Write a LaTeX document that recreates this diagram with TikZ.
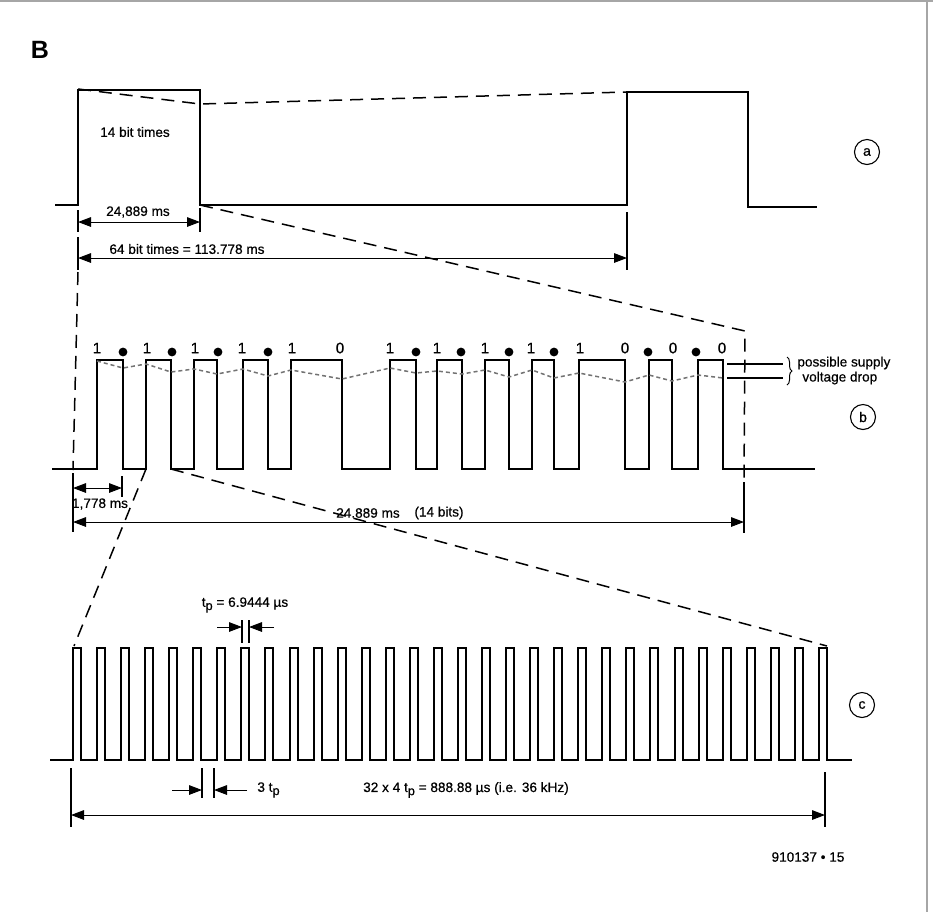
\documentclass[tikz,border=0pt]{standalone}
\usepackage{fontspec}
\setmainfont{Liberation Sans}
\newfontfamily\lblfont{Liberation Sans}[FakeBold=0.5]
\usetikzlibrary{arrows.meta,decorations.pathreplacing}
\newcommand{\tsubp}{t\raisebox{-0.45ex}{\fontsize{6.4}{6}\selectfont p}}
\begin{document}
\begin{tikzpicture}[x=0.5pt,y=-0.5pt,
  wave/.style={line width=1pt,line join=miter},
  dimln/.style={line width=0.5pt},
  extln/.style={line width=0.55pt},
  proj/.style={line width=0.75pt,dash pattern=on 6.5pt off 4pt},
  supply/.style={black!55,line width=0.75pt,dash pattern=on 2pt off 1.5pt},
  arrowR/.style={-{Triangle[length=6.5pt,width=4.8pt]}},
  dimarr/.style={dimln,{Triangle[length=6.5pt,width=4.8pt]}-{Triangle[length=6.5pt,width=4.8pt]}},
  lbl/.style={inner sep=0pt,font=\lblfont\fontsize{6.8}{8}\selectfont},
  bitlbl/.style={inner sep=0pt,font=\lblfont\fontsize{7.6}{8}\selectfont},
  circtag/.style={circle,draw,line width=0.55pt,minimum size=12.5pt,inner sep=0pt,font=\lblfont\fontsize{7}{8}\selectfont}
]
\useasboundingbox (0,0) rectangle (933,912);
% frame edges
\draw[black!35,line width=0.8pt] (0,1) -- (933,1);
\draw[black!35,line width=0.6pt] (927,0) -- (927,912);

\node[inner sep=0pt,font=\bfseries\fontsize{12.5}{12}\selectfont] (B) at (40,50) {B};

%% ---------- (a) ----------
\draw[wave] (55,205) -- (78,205) -- (78,90) -- (200,90) -- (200,205) -- (627,205)
  -- (627,92) -- (748,92) -- (748,207) -- (817,207);
\node[lbl] (a14) at (135,132) {14 bit times};
\node[circtag] (tagA) at (867,152) {a};
% dimensions
\draw[extln] (78,210) -- (78,232);
\draw[extln] (200,208) -- (200,232);
\draw[dimarr] (78,222) -- (200,222);
\node[lbl] (a24) at (138,212) {24,889 ms};
\draw[extln] (78,237) -- (78,270);
\draw[extln] (627,212) -- (627,270);
\draw[dimarr] (78,258) -- (627,258);
\node[lbl] (a64) at (187,249) {64 bit times = 113.778 ms};
% projection a -> b
\draw[proj] (78,89) -- (200,104) -- (627,92);
\draw[proj] (78,272) -- (73,470);
\draw[proj] (200,205) -- (745,331) -- (744,482);

%% ---------- (b) ----------
\draw[wave] (52,469) -- (97,469)
  -- (97,360) -- (123,360) -- (123,469) -- (146,469)
  -- (146,360) -- (171,360) -- (171,469) -- (194,469)
  -- (194,360) -- (217,360) -- (217,469) -- (243,469)
  -- (243,360) -- (268,360) -- (268,469) -- (291,469)
  -- (291,360) -- (342,360) -- (342,469) -- (390,469)
  -- (390,360) -- (416,360) -- (416,469) -- (437,469)
  -- (437,360) -- (462,360) -- (462,469) -- (485,469)
  -- (485,360) -- (509,360) -- (509,469) -- (532,469)
  -- (532,360) -- (554,360) -- (554,469) -- (579,469)
  -- (579,360) -- (625,360) -- (625,469) -- (649,469)
  -- (649,360) -- (672,360) -- (672,469) -- (698,469)
  -- (698,360) -- (723,360) -- (723,469) -- (815,469);
% supply drop curve
\draw[supply] (97,361) -- (123,368) -- (146,364) -- (171,372) -- (194,369) -- (217,374)
  -- (243,369) -- (268,376) -- (291,370) -- (342,379) -- (390,368) -- (416,373)
  -- (437,371) -- (462,374) -- (485,370) -- (509,377) -- (532,370) -- (554,378)
  -- (579,373) -- (625,382) -- (649,375) -- (672,381) -- (698,375) -- (723,378);
% bit labels
\foreach \x/\n in {97/b0,147/b1,195/b2,242/b3,292/b4,390/b6,437/b7,485/b8,531/b9,580/b10}
  \node[bitlbl] (\n) at (\x,348) {1};
\foreach \x/\n in {340/b5,625/b11,673/b12,722/b13}
  \node[bitlbl] (\n) at (\x,348) {0};
\foreach \x in {123,172,218,268,416,461,509,554,648,696}
  \fill (\x,352) circle[radius=2.2pt];
% supply drop annotation
\draw[extln] (727,364) -- (783,364);
\draw[extln] (727,378) -- (783,378);
\draw[line width=0.5pt,decorate,decoration={brace,amplitude=2.5pt}] (787,357) -- (787,385);
\node[lbl,anchor=west] (ps) at (797,363) {possible supply};
\node[lbl,anchor=west] (vd) at (802,378) {voltage drop};
\node[circtag] (tagB) at (863,417) {b};
% dimensions b
\draw[extln] (73,473) -- (73,532);
\draw[extln] (122,476) -- (122,497);
\draw[dimarr] (73,488) -- (122,488);
\node[lbl] (b1778) at (100,504) {1,778 ms};
\draw[extln] (744,482) -- (744,533);
\draw[dimarr] (73,522) -- (744,522);
\node[lbl] (b24) at (368,513) {24.889 ms};
\node[lbl] (b14) at (439,513) {(14 bits)};
% projection b -> c
\draw[proj] (146,469) -- (74,646);
\draw[proj] (171,469) -- (827,646);

%% ---------- (c) ----------
\draw[wave] (50,760) foreach \k in {0,...,31} {
   -- ({73+24.06*\k},760) -- ({73+24.06*\k},648) -- ({81+24.06*\k},648) -- ({81+24.06*\k},760) }
   -- (852,760);
\node[circtag] (tagC) at (862,705) {c};
% tp
\draw[extln] (242,620) -- (242,643);
\draw[extln] (249,620) -- (249,643);
\draw[dimln,arrowR] (217,627) -- (242,627);
\draw[dimln,arrowR] (274,627) -- (249,627);
\node[lbl] (tp) at (245,605) {\tsubp{} = 6.9444 µs};
% 3tp
\draw[extln] (202,768) -- (202,798);
\draw[extln] (214,768) -- (214,798);
\draw[dimln,arrowR] (172,790) -- (202,790);
\draw[dimln,arrowR] (247,790) -- (214,790);
\node[lbl,anchor=west] (tp3) at (257,790) {3 \tsubp};
% total
\draw[extln] (71,768) -- (71,827);
\draw[extln] (825,772) -- (825,827);
\draw[dimarr] (71,815) -- (825,815);
\node[lbl] (tot) at (466,790) {32 x 4 \tsubp{} = 888.88 µs (i.e. 36 kHz)};

\node[lbl] (fig) at (808,857) {910137 • 15};
\end{tikzpicture}
\end{document}
